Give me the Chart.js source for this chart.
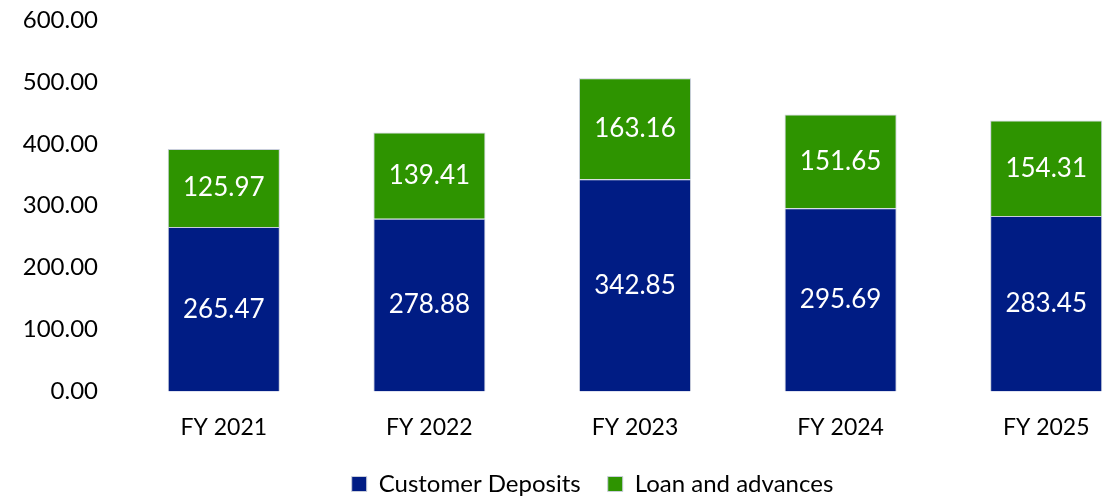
<!DOCTYPE html>
<html>
<head>
<meta charset="utf-8">
<script src="https://cdn.jsdelivr.net/npm/chart.js@4.4.0/dist/chart.umd.min.js"></script>
<style>
  html, body { margin: 0; padding: 0; background: #fff; overflow: hidden; }
  #wrap { width: 1149px; height: 497px; }
</style>
</head>
<body>
<div id="wrap"><canvas id="chart"></canvas></div>
<script>
// =============================
// DATA
// =============================

const years = ['FY 2021', 'FY 2022', 'FY 2023', 'FY 2024', 'FY 2025'];
const customerDeposits = [265.47, 278.88, 342.85, 295.69, 283.45];
const loanAdvances = [125.97, 139.41, 163.16, 151.65, 154.31];
const yTicks = [0, 100, 200, 300, 400, 500, 600];

const FONT = 'Lato, "Open Sans", sans-serif';


// =============================
// VALUE LABELS INSIDE BARS
// =============================

const barLabels = {
  id: 'barLabels',
  afterDatasetsDraw(chart) {
    const ctx = chart.ctx;
    ctx.save();
    ctx.fillStyle = '#ffffff';
    ctx.font = '26px ' + FONT;
    ctx.textAlign = 'center';
    ctx.textBaseline = 'middle';
    chart.data.datasets.forEach((ds, i) => {
      const meta = chart.getDatasetMeta(i);
      meta.data.forEach((bar, j) => {
        const y = (bar.y + bar.base) / 2;
        ctx.fillText(ds.data[j].toFixed(2), bar.x, y);
      });
    });
    ctx.restore();
  }
};

// legend sits a little right of the canvas centre in the original
const legendShift = {
  id: 'legendShift',
  afterLayout(chart) {
    chart.legend.left += 13;
    chart.legend.right += 13;
  }
};


// =============================
// CHART
// =============================

new Chart(document.getElementById('chart'), {
  type: 'bar',
  data: {
    labels: years,
    datasets: [
      {
        label: 'Customer Deposits',
        data: customerDeposits,
        backgroundColor: '#001c84',
        borderColor: '#c9cedb',
        borderWidth: 1
      },
      {
        label: 'Loan and advances',
        data: loanAdvances,
        backgroundColor: '#2e9400',
        borderColor: '#c9cedb',
        borderWidth: 1
      }
    ]
  },
  options: {
    responsive: true,
    maintainAspectRatio: false,
    animation: false,
    layout: { padding: { left: 10, right: 0, top: 20, bottom: -9 } },
    datasets: {
      bar: { barPercentage: 0.545, categoryPercentage: 1 }
    },
    plugins: {
      legend: {
        position: 'bottom',
        labels: {
          color: '#000',
          font: { family: FONT, size: 24 },
          boxWidth: 15,
          boxHeight: 15,
          padding: 27
        }
      },
      tooltip: { enabled: false }
    },
    scales: {
      x: {
        stacked: true,
        grid: { display: false },
        border: { display: false },
        afterFit(scale) {
          scale.height -= 10;
        },
        ticks: {
          color: '#000',
          font: { family: FONT, size: 23 },
          padding: 14
        }
      },
      y: {
        stacked: true,
        min: 0,
        max: 600,
        grid: { display: false },
        border: { display: false },
        afterBuildTicks(scale) {
          scale.ticks = yTicks.map(v => ({ value: v }));
        },
        afterFit(scale) {
          scale.width = 111;
          scale.paddingTop = 0;
          scale.paddingBottom = 0;
        },
        ticks: {
          color: '#000',
          font: { family: FONT, size: 24 },
          padding: 15,
          callback: v => v.toFixed(2)
        }
      }
    }
  },
  plugins: [barLabels, legendShift]
});
</script>
</body>
</html>
